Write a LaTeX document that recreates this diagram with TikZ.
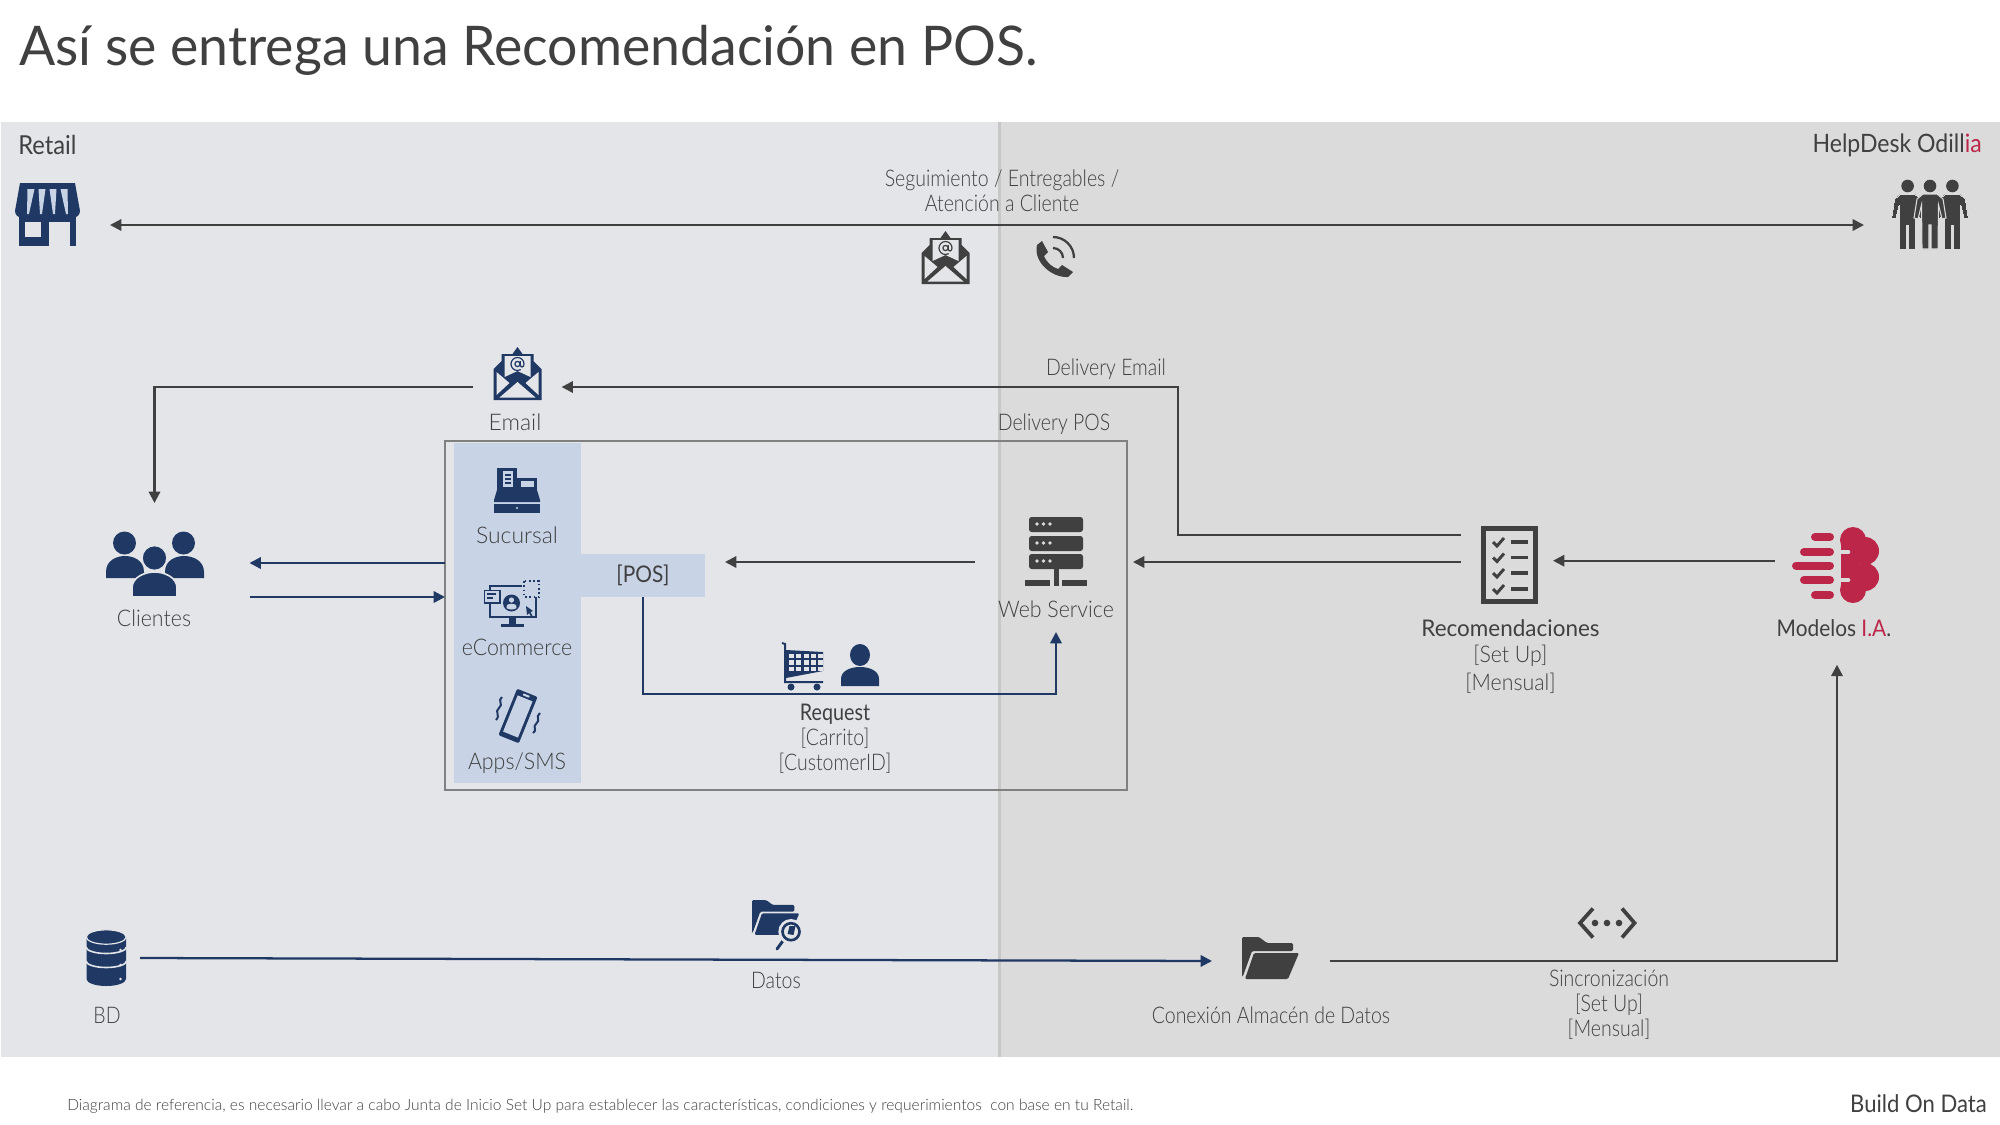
\documentclass[tikz,border=0pt]{standalone}
\usepackage{fontspec}
\setmainfont{Lato}
\newfontfamily\lightf[UprightFont=* Light,FakeStretch=0.85]{Lato}
\newfontfamily\lightg[UprightFont=* Light,FakeStretch=0.93]{Lato}
\newfontfamily\lightn[UprightFont=* Light]{Lato}
\newfontfamily\regf[FakeStretch=0.91]{Lato}
\newfontfamily\regn[FakeStretch=0.86]{Lato}
\newfontfamily\regt[FakeStretch=0.98]{Lato}
\usetikzlibrary{arrows.meta,calc}
\definecolor{navy}{HTML}{1F3864}
\definecolor{ink}{HTML}{404040}
\definecolor{txt}{HTML}{404040}
\definecolor{crim}{HTML}{BB2649}
\definecolor{bgL}{HTML}{E3E5E9}
\definecolor{bgR}{HTML}{DBDBDB}
\definecolor{colB}{HTML}{C8D4E6}
\definecolor{boxg}{HTML}{808080}
\tikzset{
 x=0.75pt,y=-0.75pt,
 lbl/.style={font=\lightf\fontsize{17.2}{18.8}\selectfont,text=txt,align=center,inner sep=0pt},
 lblw/.style={font=\lightg\fontsize{17.2}{18.8}\selectfont,text=txt,align=center,inner sep=0pt},
 lblb/.style={font=\regf\fontsize{17.2}{18.8}\selectfont,text=txt,align=center,inner sep=0pt},
 port/.style n args={2}{inner sep=0pt,outer sep=0pt,minimum width={#1*0.75pt},minimum height={#2*0.75pt}},
 gline/.style={draw=ink,line width=1.7pt},
 bline/.style={draw=navy,line width=1.7pt},
 tip/.style={-{Triangle[length=8.5pt,width=8.5pt]}},
 tips/.style={{Triangle[length=8.5pt,width=8.5pt]}-{Triangle[length=8.5pt,width=8.5pt]}},
}
% envelope 48x54
\newcommand{\envicon}[4]{\begin{scope}[shift={(#1,#2)}]
 \fill[#3] (0,53)--(0,22)--(8,14)--(8,7)--(19,7)--(24,0)--(29,7)--(40,7)--(40,14)--(48,22)--(48,53)--cycle;
 \fill[#4] (11,9)--(37,9)--(37,30)--(24,24)--(11,30)--cycle;
 \fill[#4] (3,25)--(16,36)--(3,48)--cycle;
 \fill[#4] (45,25)--(32,36)--(45,48)--cycle;
 \fill[#4] (6,50.5)--(24,35)--(42,50.5)--cycle;
 \draw[#3,line width=0.9pt] (24,17) circle[radius=2.6];
 \draw[#3,line width=0.9pt] (26.8,14)--(26.8,18) .. controls (27,21) and (30.5,20.5) .. (30.5,17) arc[start angle=0,end angle=-300,radius=6.5];
\end{scope}}
% open folder 57x42
\newcommand{\foldicon}[5]{\begin{scope}[shift={(#1,#2)},xscale=#3,yscale=#3]
 \fill[#4,rounded corners=1pt] (0,39)--(0,0)--(17,0)--(25,6)--(51,6)--(51,14)--(10,14)--(1,39)--cycle;
 \fill[#4,rounded corners=1pt] (12,16)--(57,16)--(46,42)--(3,42)--cycle;
\end{scope}}
% standing person
\newcommand{\figicon}[4]{\begin{scope}[shift={(#1,0)}]
 \fill[#2] (0,186) circle[radius=6.3];
 \path[fill=#2,draw=#3,line width=#4] (-7,194)--(7,194)--(13,199)--(16,218)--(12,219)--(8.5,205)--(8,249)--(1,249)--(1,225)--(-1,225)--(-1,249)--(-8,249)--(-8.5,205)--(-12,219)--(-16,218)--(-13,199)--cycle;
\end{scope}}
\begin{document}
\begin{tikzpicture}
\useasboundingbox (0,0) rectangle (2000,1125);
\fill[white] (0,0) rectangle (2000,1125);
\fill[bgL] (1,122) rectangle (999,1057);
\fill[bgR] (999,122) rectangle (2000,1057);
\draw[color=black!22,line width=1.8pt] (999.5,122) -- (999.5,1057);
% blue bands
\fill[colB] (454,443) rectangle (581,783);
% title, headers
\node[anchor=west,font=\regt\fontsize{41}{48}\selectfont,text=txt,inner sep=0pt] (title) at (19,50) {Así se entrega una Recomendación en POS.};
\node[lbl,anchor=west,font=\regf\fontsize{19.6}{22}\selectfont] (retail) at (18,145) {Retail};
\node[lbl,anchor=east,font=\regf\fontsize{19}{22}\selectfont] (help) at (1982,145) {HelpDesk Odill\textcolor{crim}{ia}};
\node[lbl] (seg) at (1002,190.5) {Seguimiento / Entregables /\\{}Atención a Cliente};
\node[lbl] (demail) at (1106,369.5) {Delivery Email};
\node[lbl] (dpos) at (1054,424.5) {Delivery POS};
\node[lblw,font=\lightn\fontsize{17.2}{18.8}\selectfont] (temail) at (515,422) {Email};
\node[lblw,font=\lightn\fontsize{17.2}{18.8}\selectfont] (tsuc) at (517,535) {Sucursal};
\node[lblw] (tecom) at (517,647) {eCommerce};
\node[lblw] (tapps) at (517,763) {Apps/SMS};
\node[lblw] (tcli) at (154,618.5) {Clientes};
\node[lblw] (tws) at (1056,609.5) {Web Service};
\node[lblb,font=\regn\fontsize{17.2}{18.8}\selectfont] (treq) at (835,714) {Request};
\node[lbl] (treq2) at (835,750.5) {[Carrito]\\{}[CustomerID]};
\node[lblb,font=\regt\fontsize{17.2}{18.8}\selectfont] (trec) at (1510.5,628) {Recomendaciones};
\node[lblw,font=\lightg\fontsize{17.2}{20.6}\selectfont] (trec2) at (1510.5,669.5) {[Set Up]\\{}[Mensual]};
\node[lblb] (tmod) at (1834,628) {Modelos \textcolor{crim}{I.A}.};
\node[lbl] (tbd) at (107,1015) {BD};
\node[lbl] (tdat) at (776,980) {Datos};
\node[lbl] (tcon) at (1271,1015) {Conexión Almacén de Datos};
\node[lbl] (tsyn) at (1609,1005) {Sincronización\\{}[Set Up]\\{}[Mensual]};
\node[lbl,anchor=west,font=\lightn\fontsize{11.67}{14}\selectfont] (foot) at (67,1106) {Diagrama de referencia, es necesario llevar a cabo Junta de Inicio Set Up para establecer las características, condiciones y requerimientos\ \ con base en tu Retail.};
\node[lbl,anchor=east,font=\regf\fontsize{18.2}{20}\selectfont] (bod) at (1987,1104) {Build On Data};
% POS box and frame
\node[port={124}{43},fill=colB,font=\regf\fontsize{17.2}{20}\selectfont,text=txt] (pos) at (643,575.5) {\raisebox{-1.7pt}{[POS]}};
\node[port={682}{349},draw=boxg,line width=2.1pt] (posbox) at (786,615.5) {};
% connector end nodes
\node[port={90}{20}] (store) at (65,225) {};
\node[port={100}{20}] (people) at (1914,225) {};
\node[port={88.6}{20}] (emailp) at (517.3,387) {};
\node[port={190}{154}] (clients) at (154.5,580) {};
\node[port={158}{140}] (ws) at (1054,562) {};
\node[port={92}{40}] (rec) at (1507,560.7) {};
\node[port={124}{208}] (models) at (1837,560.7) {};
\node[port={118}{30}] (conex) at (1271,961) {};
\node[port={66}{30}] (bd) at (107,958) {};
\coordinate (elbow) at (1178,387);
\coordinate (reqbar) at (835,694);
% connectors
\draw[gline,tips] (store.east) -- (people.west);
\draw[gline,tip] (emailp.west) -| (clients.north);
\draw[gline,tip] ($(rec.west)+(0,-25.7)$) -| (elbow) -- (emailp.east);
\draw[gline,tip] (rec.west |- ws.east) -- (ws.east);
\draw[gline,tip] (models.west) -- (rec.east);
\draw[gline,tip,shorten >=15pt] (ws.west) -- (pos.east |- ws.west);
\draw[gline,tip] (conex.east) -| (models.south);
\draw[bline,tip] (pos.south) |- (reqbar) -| ($(ws.south)+(2,0)$);
\draw[bline,tip] ($(posbox.west)+(0,-52.5)$) -- ($(clients.east)+(0,-17)$);
\draw[bline,tip] ($(clients.east)+(0,17)$) -- ($(posbox.west)+(0,-18.5)$);
\draw[bline,tip] (bd.east) -- (conex.west);
% store icon
\begin{scope}[shift={(15,183)}]
 \fill[navy] (4,28) rectangle (61,63);
 \fill[bgL] (10,39) rectangle (26,54);
 \fill[bgL] (34,39) rectangle (55,63);
 \fill[navy] (5,0)--(60,0)--(65,28) arc[start angle=0,end angle=180,radius=6.5] arc[start angle=0,end angle=180,radius=6.5] arc[start angle=0,end angle=180,radius=6.5] arc[start angle=0,end angle=180,radius=6.5] arc[start angle=0,end angle=180,radius=6.5]-- cycle;
 \fill[colB] (12.5,6)--(19.5,6)--(14,31)--(12,31)--cycle;
 \fill[colB] (23.5,6)--(30.5,6)--(27,31)--(25,31)--cycle;
 \fill[colB] (34.5,6)--(41.5,6)--(40,31)--(38,31)--cycle;
 \fill[colB] (45.5,6)--(52.5,6)--(53,31)--(51,31)--cycle;
\end{scope}
% top envelope, phone
\envicon{921.5}{231}{ink}{bgL}
\begin{scope}
 \fill[ink] (1037,245)--(1042,241)--(1048,252)--(1044,256) .. controls (1047,263) and (1052,267) .. (1058,269)--(1062,265)--(1073,272)--(1068,277) .. controls (1052,278) and (1033,262) .. cycle;
 \draw[ink,line width=1.7pt] (1053,248) arc[start angle=-90,end angle=0,radius=10];
 \draw[ink,line width=1.7pt] (1053,237) arc[start angle=-90,end angle=0,radius=21];
\end{scope}
% people
\figicon{1907.6}{ink}{bgR}{0pt}
\figicon{1952.4}{ink}{bgR}{0pt}
\figicon{1930}{ink}{bgR}{0.8pt}
% email icon
\envicon{493.5}{347}{navy}{bgL}
% clients
\begin{scope}
 \fill[navy] (124.5,543) circle[radius=11.5];
 \fill[navy] (183.5,543) circle[radius=11.5];
 \fill[navy] (106,578)--(106,572) .. controls (106,560) and (117,556) .. (125,556) .. controls (133,556) and (144,560) .. (144,572)--(144,578)--cycle;
 \fill[navy] (165,578)--(165,572) .. controls (165,560) and (176,556) .. (184,556) .. controls (192,556) and (204,560) .. (204,572)--(204,578)--cycle;
 \path[fill=navy,draw=bgL,line width=1.2pt] (154.5,558) circle[radius=12.5];
 \path[fill=navy,draw=bgL,line width=1.2pt] (132,597)--(132,588) .. controls (132,577) and (145,572) .. (154.5,572) .. controls (164,572) and (177,577) .. (177,588)--(177,597)--cycle;
\end{scope}
% sucursal
\begin{scope}[shift={(494,468)}]
 \fill[navy] (3,0) rectangle (23,22);
 \fill[colB] (9,3) rectangle (19,19);
 \fill[navy] (11,6) rectangle (17,8);
 \fill[navy] (11,10) rectangle (17,12);
 \fill[navy] (11,14) rectangle (17,16);
 \fill[navy] (23,10) rectangle (43,23);
 \fill[colB] (27,13) rectangle (40,19);
 \fill[navy] (3,22)--(43,22)--(46,32)--(46,34)--(0,34)--(0,32)--cycle;
 \fill[navy] (0,36) rectangle (46,45);
 \fill[colB] (23,40) circle[radius=1.2];
\end{scope}
% ecommerce
\begin{scope}[shift={(484,580)}]
 \draw[navy,line width=1.6pt] (38,6)--(6,6)--(6,37)--(52,37)--(52,17);
 \fill[navy] (25,38) rectangle (32,44);
 \fill[navy] (17,43.5) rectangle (40,47);
 \fill[navy] (27.5,23) circle[radius=8.5];
 \fill[colB] (27.5,20) circle[radius=2.6];
 \fill[colB] (22.5,28)--(23,25) .. controls (25,23.5) and (30,23.5) .. (32,25)--(32.5,28) .. controls (30,30) and (25,30) .. cycle;
 \path[fill=colB,draw=navy,line width=1pt] (0.5,10.5) rectangle (16,23);
 \draw[navy,line width=1pt] (3,14)--(12,14) (3,18)--(9,18);
 \draw[navy,line width=1.2pt,dotted] (40,1) rectangle (55,17);
 \fill[navy] (42,26)--(49,31)--(46.5,32)--(48.5,36)--(47,36.5)--(45,33)--(43,35)--cycle;
\end{scope}
% phone in column
\begin{scope}[shift={(518,716)},rotate=-22]
 \fill[navy,rounded corners=1.5pt] (-11,-25) rectangle (11,25);
 \fill[colB] (-8,-19) rectangle (8,20);
 \fill[colB,rounded corners=0.5pt] (-3.5,-23) rectangle (3.5,-21);
\end{scope}
\draw[navy,line width=1.5pt] (502,697) .. controls (497,701) and (504,704) .. (499,708) .. controls (494,712) and (501,715) .. (496,720);
\draw[navy,line width=1.5pt] (540,713) .. controls (535,717) and (541,720) .. (536,724) .. controls (532,727) and (538,730) .. (533,733);
% server
\begin{scope}
 \foreach \yy in {517,536,554}{
  \fill[ink,rounded corners=2pt] (1029,\yy) rectangle (1083,\yy+15);
  \foreach \xx in {1037,1043.5,1050}{\fill[bgR] (\xx,\yy+7) circle[radius=1.8];}
 }
 \fill[ink] (1053.5,568) rectangle (1058.5,586);
 \fill[ink] (1025,580) rectangle (1050,586);
 \fill[ink] (1062,580) rectangle (1087,586);
\end{scope}
% cart + person
\begin{scope}[shift={(782,642)}]
 \draw[navy,line width=1.5pt] (0,1)--(3,2)--(3,40)--(41,40);
 \fill[navy] (4,8)--(41,10)--(41,29)--(4,36)--cycle;
 \foreach \cx in {6.5,14,21.5,29,36}{\foreach \cy in {11.5,18,24.5}{\fill[bgL] (\cx,\cy) rectangle (\cx+5,\cy+4.8);}}
 \fill[navy] (9,45) circle[radius=3.5];
 \fill[navy] (35,45) circle[radius=3.5];
\end{scope}
\fill[navy] (860,655) ellipse[x radius=10,y radius=11];
\fill[navy] (841,686)--(841,679) .. controls (841,671) and (850,667) .. (860,667) .. controls (870,667) and (879,671) .. (879,679)--(879,686)--cycle;
% checklist
\draw[ink,line width=4pt] (1483.7,528.7) rectangle (1535.3,601.3);
\foreach \yy in {542,557.5,573,589}{
 \draw[ink,line width=2.2pt] (1493,\yy)--(1497,\yy+4)--(1504,\yy-4);
 \draw[ink,line width=2.3pt] (1511,\yy)--(1527.5,\yy);
}
% brain
\begin{scope}[shift={(-1,-1)}]
 \draw[crim,line width=6pt,line cap=round] (1816,538)--(1831,538) (1805,553)--(1831,553) (1797,566.5)--(1831,566.5) (1805,581)--(1831,581) (1816,596)--(1831,596);
 \fill[crim] (1854,541) circle[radius=13];
 \fill[crim] (1866,552) circle[radius=14];
 \fill[crim] (1866,578) circle[radius=14];
 \fill[crim] (1854,591) circle[radius=13];
 \fill[crim] (1841.5,538) rectangle (1860,594);
 \draw[bgR,line width=3.5pt,line cap=round] (1840,553)--(1849,553) (1840,581)--(1849,581);
\end{scope}
% BD
\begin{scope}
 \fill[navy] (86.5,937) -- (86.5,979) arc[start angle=180,end angle=0,x radius=19.75,y radius=7] -- (126,937) -- cycle;
 \draw[bgL,line width=1.2pt] (86,947) arc[start angle=180,end angle=0,x radius=20.25,y radius=6.5];
 \draw[bgL,line width=1.2pt] (86,961) arc[start angle=180,end angle=0,x radius=20.25,y radius=6.5];
 \path[fill=navy,draw=bgL,line width=0.9pt] (106.2,937) ellipse[x radius=19.9,y radius=7.2];
 \foreach \yy in {950,965,979}{\fill[bgL] (120.5,\yy) circle[radius=1.3];}
\end{scope}
% datos folder + magnifier
\foldicon{752}{900}{0.83}{navy}{bgL}
\draw[navy,line width=2.2pt,line cap=round] (785,938)--(777,949);
\path[fill=bgL,draw=bgL,line width=2.5pt] (791,931.7) circle[radius=11];
\path[fill=bgL,draw=navy,line width=2pt] (791,931.7) circle[radius=8.5];
\fill[navy] (787.5,934)--(789.5,926)--(795.5,926)--(793.5,935)--cycle;
% connection folder
\foldicon{1242}{937}{1}{ink}{bgR}
% sync
\draw[ink,line width=2.8pt] (1593,908.5)--(1580,923)--(1593,937.5);
\draw[ink,line width=2.8pt] (1622,908.5)--(1634.5,923)--(1622,937.5);
\foreach \xx in {1595,1607,1619}{\fill[ink] (\xx,923) circle[radius=3.3];}
\end{tikzpicture}
\end{document}
